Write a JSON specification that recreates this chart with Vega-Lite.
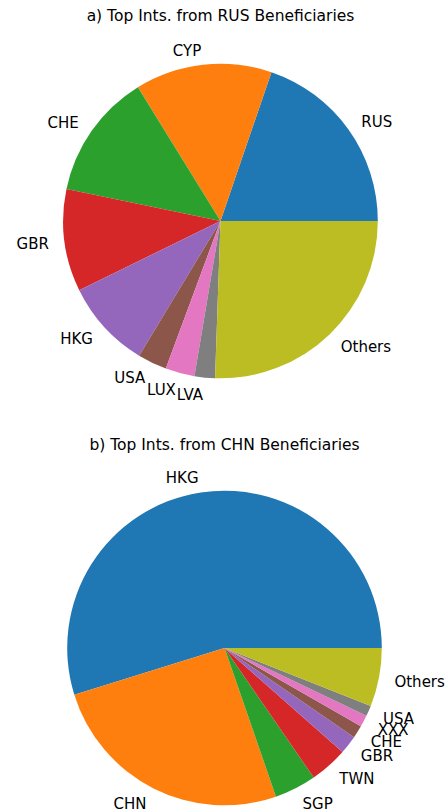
{
  "$schema": "https://vega.github.io/schema/vega-lite/v6.json",
  "padding": {"top": 8, "left": 0, "right": 0, "bottom": 0},
  "background": "white",
  "spacing": 35,
  "config": {
    "view": {"stroke": null},
    "font": "DejaVu Sans"
  },
  "datasets": {
    "rus": [
      {"country": "RUS", "share": 19.75, "rank": 1},
      {"country": "CYP", "share": 14.05, "rank": 2},
      {"country": "CHE", "share": 12.95, "rank": 3},
      {"country": "GBR", "share": 10.5, "rank": 4},
      {"country": "HKG", "share": 9.1, "rank": 5},
      {"country": "USA", "share": 3.0, "rank": 6},
      {"country": "LUX", "share": 3.0, "rank": 7},
      {"country": "LVA", "share": 2.1, "rank": 8},
      {"country": "Others", "share": 25.55, "rank": 9}
    ],
    "chn": [
      {"country": "HKG", "share": 54.8, "rank": 1},
      {"country": "CHN", "share": 25.5, "rank": 2},
      {"country": "SGP", "share": 4.3, "rank": 3},
      {"country": "TWN", "share": 3.9, "rank": 4},
      {"country": "GBR", "share": 1.9, "rank": 5},
      {"country": "CHE", "share": 1.3, "rank": 6},
      {"country": "XXX", "share": 1.2, "rank": 7},
      {"country": "USA", "share": 1.1, "rank": 8},
      {"country": "Others", "share": 6.0, "rank": 9}
    ]
  },
  "resolve": {"scale": {"color": "independent", "theta": "independent"}},
  "vconcat": [
    {
      "width": 441,
      "height": 314,
      "title": {"text": "a) Top Ints. from RUS Beneficiaries", "offset": 7.5, "frame": "group", "baseline": "alphabetic", "anchor": "middle", "font": "DejaVu Sans", "fontSize": 15.5, "fontWeight": "normal", "color": "black"},
      "data": {"name": "rus"},
      "encoding": {
        "theta": {"field": "share", "type": "quantitative", "stack": true, "scale": {"domain": [0, 100], "range": [1.5707963, -4.712389]}},
        "order": {"field": "rank", "type": "quantitative"}
      },
      "layer": [
        {
          "mark": {"type": "arc", "radius": 157.3},
          "encoding": {"color": {"field": "rank", "type": "ordinal", "scale": {"scheme": "category10"}, "legend": null}}
        },
        {
          "mark": {"type": "text", "radius": 173, "fontSize": 15, "baseline": "middle", "dy": 1.5, "color": "black",
                   "align": {"expr": "((datum.share_start + datum.share_end) / 2 < 25 || (datum.share_start + datum.share_end) / 2 > 75) ? 'left' : 'right'"}},
          "encoding": {"text": {"field": "country", "type": "nominal"}}
        }
      ]
    },
    {
      "width": 449,
      "height": 314,
      "title": {"text": "b) Top Ints. from CHN Beneficiaries", "offset": 5.7, "frame": "group", "baseline": "alphabetic", "anchor": "middle", "font": "DejaVu Sans", "fontSize": 15.5, "fontWeight": "normal", "color": "black"},
      "data": {"name": "chn"},
      "encoding": {
        "theta": {"field": "share", "type": "quantitative", "stack": true, "scale": {"domain": [0, 100], "range": [1.5707963, -4.712389]}},
        "order": {"field": "rank", "type": "quantitative"}
      },
      "layer": [
        {
          "mark": {"type": "arc", "radius": 157.3},
          "encoding": {"color": {"field": "rank", "type": "ordinal", "scale": {"scheme": "category10"}, "legend": null}}
        },
        {
          "mark": {"type": "text", "radius": 173, "fontSize": 15, "baseline": "middle", "dy": 1.5, "color": "black",
                   "align": {"expr": "((datum.share_start + datum.share_end) / 2 < 25 || (datum.share_start + datum.share_end) / 2 > 75) ? 'left' : 'right'"}},
          "encoding": {"text": {"field": "country", "type": "nominal"}}
        }
      ]
    }
  ]
}
